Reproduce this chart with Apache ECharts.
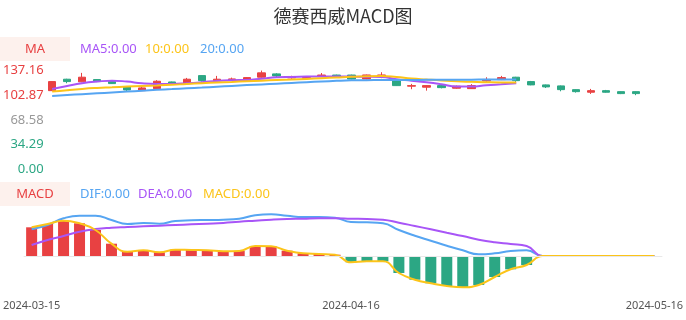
<!DOCTYPE html>
<html><head><meta charset="utf-8">
<script src="https://cdn.jsdelivr.net/npm/echarts@6/dist/echarts.min.js"></script>
<style>html,body{margin:0;padding:0;background:#fff}#c{width:686px;height:320px}</style>
</head><body><div id="c"></div>
<script>
const dates = ['2024-03-15','2024-03-18','2024-03-19','2024-03-20','2024-03-21','2024-03-22','2024-03-25','2024-03-26','2024-03-27','2024-03-28','2024-03-29',
'2024-04-01','2024-04-02','2024-04-03','2024-04-08','2024-04-09','2024-04-10','2024-04-11','2024-04-12','2024-04-15','2024-04-16','2024-04-17','2024-04-18','2024-04-19',
'2024-04-22','2024-04-23','2024-04-24','2024-04-25','2024-04-26','2024-04-29','2024-04-30',
'2024-05-06','2024-05-07','2024-05-08','2024-05-09','2024-05-10','2024-05-13','2024-05-14','2024-05-15','2024-05-16'];
// [open, close, low, high]
const ohlc = [
[109.3,121.9,109.0,122.2],[125.2,121.9,119.6,125.8],[121.5,128.0,121.0,134.0],[124.7,121.9,121.2,125.3],[121.9,119.1,118.6,122.3],
[114.5,110.3,107.5,114.9],[109.3,113.1,108.8,114.5],[112.1,122.4,111.6,123.8],[121.4,119.1,118.7,121.9],[119.1,125.2,118.7,127.0],
[130.2,123.2,121.9,130.7],[123.2,125.2,122.6,129.8],[123.8,125.6,123.2,127.4],[123.2,127.4,121.9,128.0],[128.0,134.0,127.4,137.2],
[132.6,129.8,128.0,133.6],[127.0,129.0,126.0,130.0],[126.5,127.5,124.5,128.5],[130.0,131.0,129.8,133.8],[131.0,130.0,129.5,131.5],
[131.0,125.5,125.0,131.5],[125.6,131.1,125.0,131.6],[129.8,131.1,126.6,134.9],[123.3,116.3,115.9,123.6],[115.5,116.3,111.3,118.7],
[114.1,116.3,109.3,116.8],[116.3,113.5,112.5,117.7],[112.7,115.5,112.1,116.3],[112.1,116.3,111.6,118.3],[122.8,124.9,121.9,127.9],
[124.6,127.4,124.0,129.8],[128.0,123.2,121.0,128.5],[121.9,117.3,116.8,122.8],[117.3,114.5,113.0,117.8],[115.9,110.7,108.4,116.5],
[110.7,107.9,106.6,111.2],[107.1,109.3,104.7,111.7],[109.3,107.1,106.5,110.3],[107.9,105.2,104.5,108.4],[107.9,105.2,103.0,108.4]
];
const ma5 = [111.7,115.9,119.6,121.9,123.2,121.9,119.6,118.7,118.7,119.6,121.0,122.8,123.8,124.2,126.0,128.0,128.4,128.8,129.1,129.1,128.8,128.7,128.4,125.2,123.2,121.0,118.2,114.9,114.9,116.8,118.2,119.6];
const ma10 = [108.0,110.0,111.7,113.0,114.0,115.0,115.8,116.5,117.4,118.6,119.6,120.6,121.4,122.3,123.2,124.0,124.7,125.6,126.6,127.6,128.6,129.3,129.6,128.3,126.2,124.8,123.5,122.5,121.6,121.0,120.6,120.5];
const ma20 = [102.0,103.2,104.4,105.6,106.8,108.0,109.2,110.4,111.5,112.6,113.6,114.8,115.9,117.0,118.0,119.0,120.0,121.0,122.0,122.9,123.6,123.9,124.0,124.1,124.2,124.3,124.4,124.5,124.6,124.7,124.8,124.9];
const dif = [2.67,3.1,3.77,4.03,4.03,3.6,3.2,3.3,3.23,3.5,3.57,3.6,3.63,3.73,4.07,4.17,4.03,3.9,3.9,3.83,3.4,3.37,3.27,2.6,2.03,1.53,1.03,0.57,0.17,0.27,0.5,0.57,0,0,0,0,0,0,0,0];
const dea = [1.1,1.6,2.0,2.43,2.7,2.83,2.9,2.97,3.03,3.1,3.17,3.23,3.3,3.43,3.53,3.63,3.7,3.73,3.77,3.77,3.73,3.7,3.63,3.33,3.0,2.67,2.33,2.0,1.63,1.37,1.2,1.0,0,0,0,0,0,0,0,0];
const macd = [2.87,3.2,3.53,3.27,2.6,1.23,0.43,0.57,0.37,0.63,0.6,0.57,0.47,0.5,1.0,0.97,0.53,0.27,0.2,0.13,-0.63,-0.53,-0.53,-1.7,-2.37,-2.73,-3.0,-3.13,-2.9,-2.1,-1.33,-0.9,0,0,0,0,0,0,0,0];
const priceTicks = [0, 34.29, 68.58, 102.87, 137.16];
const xLabelIdx = [0, 20, 39];

const RED = '#e84142', GREEN = '#2ca784', PURPLE = '#a855f7', YELLOW = '#fcc419', BLUE = '#56a5f2';
const FONT = 'Noto Sans';
const chart = echarts.init(document.getElementById('c'));
const mid = priceTicks[2];
chart.setOption({
  animation: false,
  title: { text: '德赛西威MACD图', left: 'center', top: 2,
    textStyle: { fontSize: 18, fontWeight: 'normal', color: '#333', fontFamily: 'Noto Sans CJK SC' } },
  graphic: [
    { type: 'rect', shape: { x: 0, y: 37, width: 70, height: 24 }, style: { fill: '#fdf1ed' } },
    { type: 'text', x: 35, y: 49, style: { text: 'MA', fill: RED, font: '13px ' + FONT, textAlign: 'center', textVerticalAlign: 'middle' } },
    { type: 'text', x: 80, y: 49, style: { text: 'MA5:0.00', fill: PURPLE, font: '13px ' + FONT, textVerticalAlign: 'middle' } },
    { type: 'text', x: 145, y: 49, style: { text: '10:0.00', fill: YELLOW, font: '13px ' + FONT, textVerticalAlign: 'middle' } },
    { type: 'text', x: 200, y: 49, style: { text: '20:0.00', fill: BLUE, font: '13px ' + FONT, textVerticalAlign: 'middle' } },
    { type: 'rect', shape: { x: 0, y: 182, width: 70, height: 24 }, style: { fill: '#fdf1ed' } },
    { type: 'text', x: 35, y: 194, style: { text: 'MACD', fill: RED, font: '13px ' + FONT, textAlign: 'center', textVerticalAlign: 'middle' } },
    { type: 'text', x: 80, y: 194, style: { text: 'DIF:0.00', fill: BLUE, font: '13px ' + FONT, textVerticalAlign: 'middle' } },
    { type: 'text', x: 138, y: 194, style: { text: 'DEA:0.00', fill: PURPLE, font: '13px ' + FONT, textVerticalAlign: 'middle' } },
    { type: 'text', x: 203, y: 194, style: { text: 'MACD:0.00', fill: YELLOW, font: '13px ' + FONT, textVerticalAlign: 'middle' } }
  ],
  grid: [
    { left: 42.5, right: 42.5, top: 70.6, height: 98.7 },
    { left: 20, right: 21, top: 206, height: 86 }
  ],
  xAxis: [
    { type: 'category', gridIndex: 0, data: dates, boundaryGap: true,
      axisLine: { show: false }, axisTick: { show: false }, axisLabel: { show: false }, splitLine: { show: false } },
    { type: 'category', gridIndex: 1, data: dates, boundaryGap: true, position: 'bottom',
      axisLine: { show: false, onZero: false }, axisTick: { show: false }, splitLine: { show: false },
      axisLabel: { color: '#555', fontSize: 11, fontFamily: FONT, margin: 8,
        interval: (i) => xLabelIdx.indexOf(i) >= 0,
        alignMinLabel: 'center', alignMaxLabel: 'center' } }
  ],
  yAxis: [
    { type: 'value', gridIndex: 0, min: priceTicks[0], max: priceTicks[priceTicks.length - 1], interval: priceTicks[1] - priceTicks[0],
      axisLine: { show: false }, axisTick: { show: false }, splitLine: { show: false },
      axisLabel: { margin: 1, fontSize: 13, fontFamily: FONT,
        formatter: (v) => {
          const s = v.toFixed(2);
          if (Math.abs(v - mid) < 0.01) return '{n|' + s + '}';
          return v > mid ? '{r|' + s + '}' : '{g|' + s + '}';
        },
        rich: { r: { color: RED, fontSize: 13, fontFamily: FONT }, g: { color: GREEN, fontSize: 13, fontFamily: FONT }, n: { color: '#999', fontSize: 13, fontFamily: FONT } } } },
    { type: 'value', gridIndex: 1, min: -3.6, max: 5, show: false, splitLine: { show: false } }
  ],
  series: [
    { type: 'candlestick', xAxisIndex: 0, yAxisIndex: 0, data: ohlc, barWidth: 8,
      itemStyle: { color: RED, color0: GREEN, borderColor: RED, borderColor0: GREEN, borderWidth: 1 } },
    { type: 'line', xAxisIndex: 0, yAxisIndex: 0, data: ma5, smooth: true, showSymbol: false, lineStyle: { color: PURPLE, width: 2 } },
    { type: 'line', xAxisIndex: 0, yAxisIndex: 0, data: ma10, smooth: true, showSymbol: false, lineStyle: { color: YELLOW, width: 2 } },
    { type: 'line', xAxisIndex: 0, yAxisIndex: 0, data: ma20, smooth: true, showSymbol: false, lineStyle: { color: BLUE, width: 2 } },
    { type: 'bar', xAxisIndex: 1, yAxisIndex: 1, data: macd, barWidth: 11,
      itemStyle: { color: (p) => p.value >= 0 ? RED : GREEN },
      markLine: { silent: true, symbol: 'none', label: { show: false }, animation: false,
        lineStyle: { color: '#e8e8e8', width: 1, type: 'solid' }, data: [{ yAxis: 0 }] } },
    { type: 'line', xAxisIndex: 1, yAxisIndex: 1, data: dif, smooth: true, showSymbol: false, lineStyle: { color: BLUE, width: 2 } },
    { type: 'line', xAxisIndex: 1, yAxisIndex: 1, data: dea, smooth: true, showSymbol: false, lineStyle: { color: PURPLE, width: 2 } },
    { type: 'line', xAxisIndex: 1, yAxisIndex: 1, data: macd, smooth: true, showSymbol: false, lineStyle: { color: YELLOW, width: 2 } }
  ]
});
</script></body></html>
